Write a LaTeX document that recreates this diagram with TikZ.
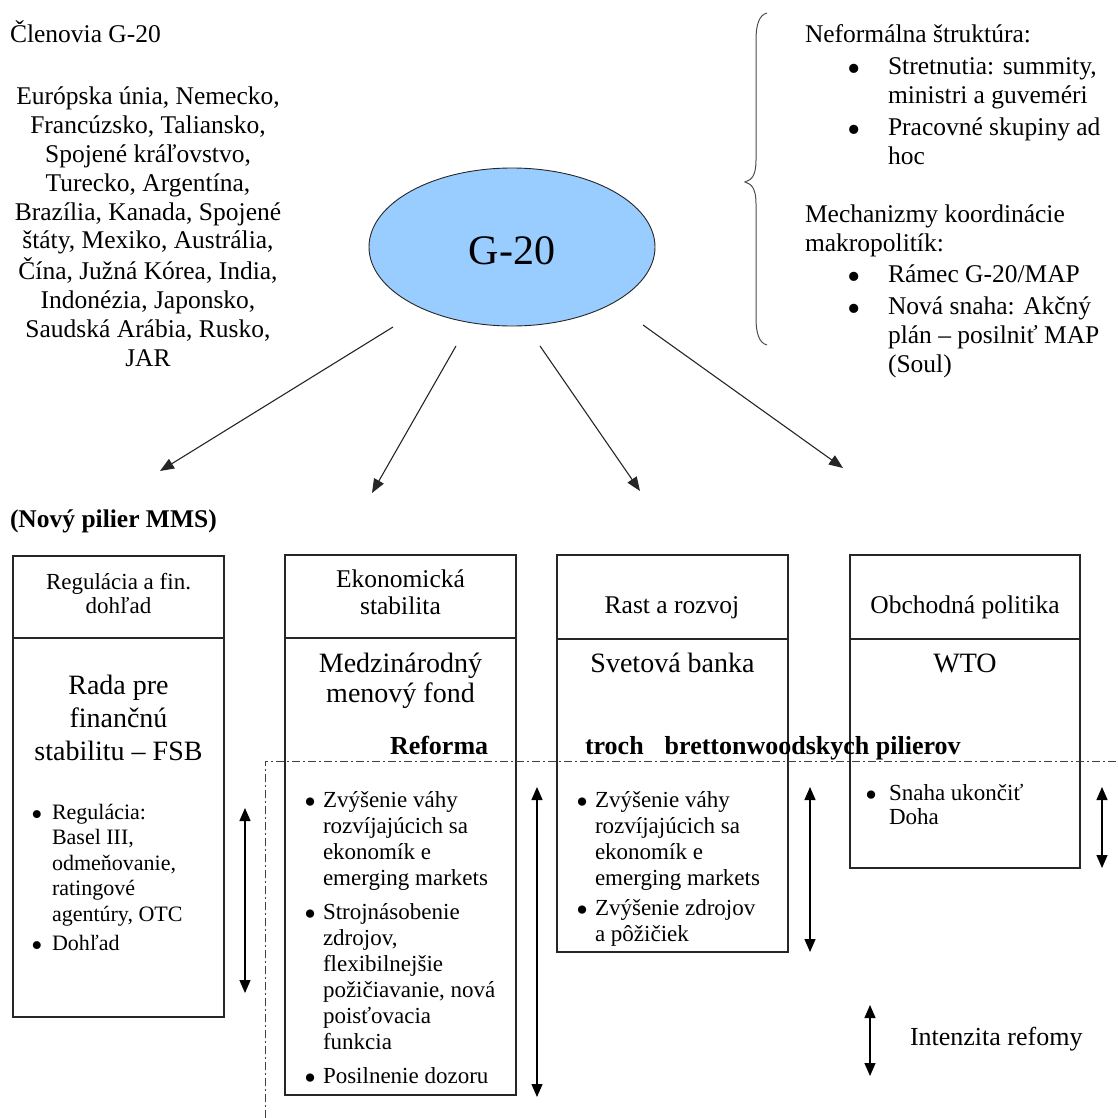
\documentclass[tikz,border=0pt]{standalone}
\usepackage{fontspec}
\usepackage{graphicx}
\setmainfont{Liberation Serif}
\usetikzlibrary{arrows.meta,shapes.geometric}
\definecolor{gblue}{HTML}{99CCFF}
\newcommand{\mytb}[2]{\begin{tabular}[t]{@{}#1@{}}#2\end{tabular}}
\newcommand{\myfs}[2]{\fontsize{#1}{#2}\selectfont}
\newcommand{\mybul}[1]{\makebox[#1][l]{\smash{\raisebox{-0.28em}{\scalebox{1.5}{\textbullet}}}}}
\begin{document}
\begin{tikzpicture}[x=1pt,y=-1pt,
  every node/.style={inner sep=0pt, outer sep=0pt},
  box/.style={draw=black!85, line width=1.2pt, rectangle, anchor=north west},
  arr/.style={-{Triangle[length=14pt,width=11pt]}, line width=1.1pt, draw=black!85},
  darr/.style={{Triangle[length=13pt,width=11pt]}-{Triangle[length=13pt,width=11pt]}, line width=1.3pt},
  dashdot/.style={draw=black!75, line width=1pt, dash pattern=on 8pt off 3pt on 2pt off 3pt},
  bl/.style={anchor=base west},
  bc/.style={anchor=base}]
\useasboundingbox (0,0) rectangle (1118,1118);

% top left
\node[bl] (members) at (10,42.5) {\myfs{25.5}{29}Členovia G-20};
\node[bc] (list) at (148,104.5) {\myfs{25.5}{28.9}\mytb{c}{Európska únia, Nemecko,\\Francúzsko, Taliansko,\\Spojené kráľovstvo,\\Turecko, Argentína,\\Brazília, Kanada, Spojené\\štáty, Mexiko, Austrália,\\Čína, Južná Kórea, India,\\Indonézia, Japonsko,\\Saudská Arábia, Rusko,\\JAR}};

% ellipse
\node[ellipse, draw=black!85, fill=gblue, line width=0.9pt, minimum width=286pt, minimum height=158pt] (g20) at (512,247) {};
\node[bc] (g20t) at (512,264) {\myfs{42}{46}G-20};

% brace
\draw[line width=1pt, draw=black!70] (767,13) .. controls (759,15) and (756,25) .. (756,40) -- (756,160) .. controls (756,175) and (752,180) .. (745,182) .. controls (752,184) and (756,189) .. (756,204) -- (756,318) .. controls (756,333) and (759,343) .. (767,345);

% top right
\node[bl] (struct) at (805,42.5) {\myfs{25.5}{29}\mytb{l}{Neformálna štruktúra:\\[3pt]
\hspace*{42pt}\mybul{41pt}Stretnutia: summity,\\
\hspace*{83pt}ministri a guveméri\\[3pt]
\hspace*{42pt}\mybul{41pt}Pracovné skupiny ad\\
\hspace*{83pt}hoc\\[29pt]
Mechanizmy koordinácie\\
makropolitík:\\[2pt]
\hspace*{42pt}\mybul{41pt}Rámec G-20/MAP\\[3pt]
\hspace*{42pt}\mybul{41pt}Nová snaha: Akčný\\
\hspace*{83pt}plán – posilniť MAP\\
\hspace*{83pt}(Soul)}};

% arrows from G-20
\coordinate (a1s) at (393,327); \coordinate (a1e) at (160,471);
\coordinate (a2s) at (456,346); \coordinate (a2e) at (372,493);
\coordinate (a3s) at (540,346); \coordinate (a3e) at (640,491);
\coordinate (a4s) at (643,325); \coordinate (a4e) at (843,468);
\draw[arr] (a1s) -- (a1e);
\draw[arr] (a2s) -- (a2e);
\draw[arr] (a3s) -- (a3e);
\draw[arr] (a4s) -- (a4e);

\node[bl] (pillar) at (10,527) {\myfs{25.5}{29}\bfseries (Nový pilier MMS)};

% boxes
\node[box, minimum width=211pt, minimum height=82pt] (h1) at (13,556) {};
\node[box, minimum width=211pt, minimum height=379pt] (b1) at (13,638) {};
\node[box, minimum width=231pt, minimum height=83pt] (h2) at (285,555) {};
\node[box, minimum width=231pt, minimum height=457pt] (b2) at (285,638) {};
\node[box, minimum width=231pt, minimum height=84pt] (h3) at (557,555) {};
\node[box, minimum width=231pt, minimum height=313pt] (b3) at (557,639) {};
\node[box, minimum width=230pt, minimum height=84pt] (h4) at (850,555) {};
\node[box, minimum width=230pt, minimum height=229pt] (b4) at (850,639) {};

% headers
\node[bc] (h1t) at (118.5,589) {\myfs{23}{24}\mytb{c}{Regulácia a fin.\\dohľad}};
\node[bc] (h2t) at (400.5,587.5) {\myfs{25.5}{27}\mytb{c}{Ekonomická\\stabilita}};
\node[bc] (h3t) at (672,613.5) {\myfs{25.5}{27}Rast a rozvoj};
\node[bc] (h4t) at (965,613.5) {\myfs{25.5}{27}Obchodná politika};

% body titles
\node[bc] (b1t) at (118.5,694.5) {\myfs{28}{33}\mytb{c}{Rada pre\\finančnú\\stabilitu – FSB}};
\node[bc] (b2t) at (400.5,672.5) {\myfs{28}{30}\mytb{c}{Medzinárodný\\menový fond}};
\node[bc] (b3t) at (672.5,672.5) {\myfs{28}{30}Svetová banka};
\node[bc] (b4t) at (965,672.5) {\myfs{28}{30}WTO};

% reform line
\node[bl] (ref1) at (390,754) {\myfs{26}{28}\bfseries Reforma};
\node[bl] (ref2) at (585,754) {\myfs{26}{28}\bfseries troch\hspace{21pt}brettonwoodskych pilierov};

% dash-dot
\coordinate (dd1) at (265,1118);
\coordinate (dd2) at (265,761);
\coordinate (dd3) at (1118,761);
\draw[dashdot] (dd1) -- (dd2) -- (dd3);

% bullets
\node[bl] (l1) at (31,819) {\myfs{22}{25.5}\mytb{l}{\mybul{21pt}Regulácia:\\\hspace*{21pt}Basel III,\\\hspace*{21pt}odmeňovanie,\\\hspace*{21pt}ratingové\\\hspace*{21pt}agentúry, OTC\\[4pt]\mybul{21pt}Dohľad}};
\node[bl] (l2) at (304,807) {\myfs{23}{26}\mytb{l}{\mybul{19pt}Zvýšenie váhy\\\hspace*{19pt}rozvíjajúcich sa\\\hspace*{19pt}ekonomík e\\\hspace*{19pt}emerging markets\\[8pt]\mybul{19pt}Strojnásobenie\\\hspace*{19pt}zdrojov,\\\hspace*{19pt}flexibilnejšie\\\hspace*{19pt}požičiavanie, nová\\\hspace*{19pt}poisťovacia\\\hspace*{19pt}funkcia\\[8pt]\mybul{19pt}Posilnenie dozoru}};
\node[bl] (l3) at (576,807) {\myfs{23}{26}\mytb{l}{\mybul{19pt}Zvýšenie váhy\\\hspace*{19pt}rozvíjajúcich sa\\\hspace*{19pt}ekonomík e\\\hspace*{19pt}emerging markets\\[4pt]\mybul{19pt}Zvýšenie zdrojov\\\hspace*{19pt}a pôžičiek}};
\node[bl] (l4) at (865,800) {\myfs{23}{24}\mytb{l}{\mybul{24pt}Snaha ukončiť\\\hspace*{24pt}Doha}};

% intensity arrows
\coordinate (i1t) at (245,808); \coordinate (i1b) at (245,993);
\coordinate (i2t) at (537,787); \coordinate (i2b) at (537,1097);
\coordinate (i3t) at (810,787); \coordinate (i3b) at (810,952);
\coordinate (i4t) at (1102,787); \coordinate (i4b) at (1102,868);
\draw[darr] (i1t) -- (i1b);
\draw[darr] (i2t) -- (i2b);
\draw[darr] (i3t) -- (i3b);
\draw[darr] (i4t) -- (i4b);

% legend
\coordinate (lgt) at (870,1005); \coordinate (lgb) at (870,1076);
\draw[darr] (lgt) -- (lgb);
\node[bl] (legend) at (910,1045.5) {\myfs{26}{29}Intenzita refomy};
\end{tikzpicture}
\end{document}
